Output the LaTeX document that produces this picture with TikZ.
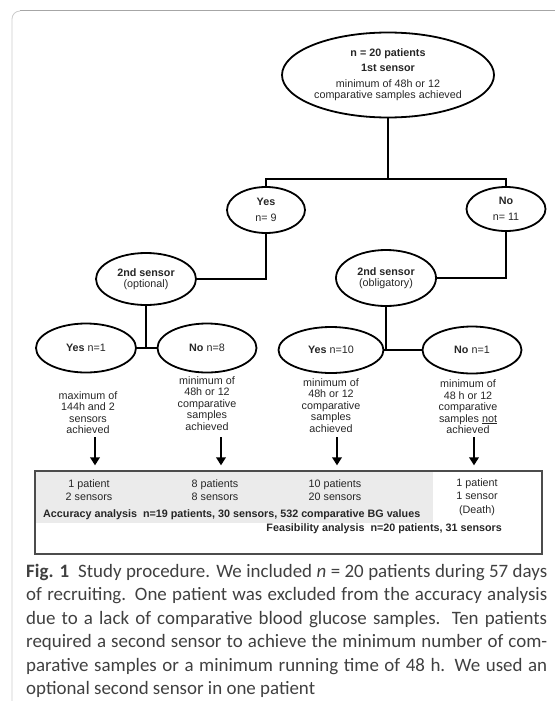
\documentclass[tikz,border=0pt]{standalone}
\usepackage{fontspec}
\setmainfont{Liberation Sans}
\newfontfamily\capfont{Carlito}
\usepackage{tikz}
\usetikzlibrary{positioning}
\usetikzlibrary{shapes.geometric}
\usetikzlibrary{arrows.meta}
\newcommand{\underword}[1]{\setbox0\hbox{#1}\rlap{\rule[-1.6bp]{\wd0}{0.6bp}}\box0}

\begin{document}
\begin{tikzpicture}[x=1bp, y=-1bp, on grid,
    oval/.style = {draw, ellipse, line width=1.8bp, inner sep=0pt, align=center, text=black!85,
        font=\fontsize{10.8}{11.5}\selectfont},
    note/.style = {align=center, inner sep=0pt, text=black!85, font=\fontsize{10.8}{11.5}\selectfont},
    boxtext/.style = {align=center, inner sep=0pt, text=black!85, font=\fontsize{10.8}{13.5}\selectfont},
    link/.style = {line width=1.8bp},
    arr/.style = {line width=1.8bp, -{Triangle[length=8bp,width=9.5bp]}}]
          \useasboundingbox (0,0) rectangle (555,701);
          % frame of the figure
          \draw[gray!40, line width=0.8bp] (12,701) -- (12,19) to[out=90, in=180] (20,11);
          \draw[gray!70, line width=1bp] (20,11) -- (555,11);
          % tree
          \node[oval, minimum width=212bp, minimum height=85bp](top) at (388,75)
              {\textbf{n = 20 patients}\\[3.5bp]\textbf{1st sensor}\\[4bp]minimum of 48h or 12\\comparative samples achieved};
          \coordinate[below=104bp of top] (split);
          \node[oval, minimum width=78bp, minimum height=46bp](yes9)[below left=135bp and 122bp of top]
              {\textbf{Yes}\\[5bp]n= 9};
          \node[oval, minimum width=79bp, minimum height=44bp](no11)[below right=134bp and 118bp of top]
              {\textbf{No}\\[5bp]n= 11};
          \node[oval, minimum width=100bp, minimum height=52bp](opt)[below left=69bp and 120bp of yes9]
              {\textbf{2nd sensor}\\(optional)};
          \node[oval, minimum width=100bp, minimum height=56bp](obl)[below left=69bp and 120bp of no11]
              {\textbf{2nd sensor}\\(obligatory)};
          \node[oval, minimum width=100bp, minimum height=49bp](yes1)[below left=69bp and 60bp of opt]
              {\textbf{Yes} n=1};
          \node[oval, minimum width=99bp, minimum height=49bp](no8)[right=121bp of yes1]
              {\textbf{No} n=8};
          \node[oval, minimum width=105bp, minimum height=46bp](yes10)[below left=72bp and 55bp of obl]
              {\textbf{Yes} n=10};
          \node[oval, minimum width=99bp, minimum height=47bp](no1)[right=141bp of yes10]
              {\textbf{No} n=1};
          \draw[link] (top) -- (split);
          \draw[link] (yes9) -- (yes9 |- split) -- (no11 |- split) -- (no11);
          \draw[link] (yes9) |- (opt);
          \draw[link] (no11) |- (obl);
          \draw[link] (opt) -- (opt |- yes1);
          \draw[link] (yes1) -- (no8);
          \draw[link] (obl) -- (obl |- yes10);
          \draw[link] (yes10) -- (no1);
          % outcome of each branch
          \node[note](c1)[below right=64.5bp and 2bp of yes1]
              {maximum of\\144h and 2\\sensors\\achieved};
          \node[note](c2)[below=55.5bp of no8]
              {minimum of\\48h or 12\\comparative\\samples\\achieved};
          \node[note](c3)[below=55.5bp of yes10]
              {minimum of\\48h or 12\\comparative\\samples\\achieved};
          \node[note](c4)[below left=57bp and 4bp of no1]
              {minimum of\\48 h or 12\\comparative\\samples \underword{not}\\achieved};
          % analysis box
          \node[fill=gray!16, minimum width=398bp, minimum height=52bp, inner sep=0pt, anchor=north west](acc) at (35,471) {};
          \node[draw=gray!60!black, line width=1.3bp, minimum width=507bp, minimum height=83bp, inner sep=0pt](box) at (288.5,512.5) {};
          \coordinate[above=33bp of box.north] (arrowtop);
          \draw[arr, shorten >=5bp] ([xshift=7bp]c1.south |- arrowtop) -- ([xshift=7bp]c1.south |- box.north);
          \draw[arr, shorten >=5bp] ([xshift=14bp]c2.south |- arrowtop) -- ([xshift=14bp]c2.south |- box.north);
          \draw[arr, shorten >=5bp] ([xshift=6bp]c3.south |- arrowtop) -- ([xshift=6bp]c3.south |- box.north);
          \draw[arr, shorten >=5bp] ([xshift=6bp]c4.south |- arrowtop) -- ([xshift=6bp]c4.south |- box.north);
          \node[boxtext](p1) at (89,490) {1 patient\\2 sensors};
          \node[boxtext](p8) at (215,490) {8 patients\\8 sensors};
          \node[boxtext](p10) at (335,490) {10 patients\\20 sensors};
          \node[boxtext](p1d) at (477,497) {1 patient\\1 sensor\\(Death)};
          \node[boxtext, anchor=west](accuracy) at (43,515)
              {\textbf{Accuracy analysis\ \ n=19 patients, 30 sensors, 532 comparative BG values}};
          \node[boxtext, anchor=east](feasibility) at (502,529)
              {\textbf{Feasibility analysis\ \ n=20 patients, 31 sensors}};
          % caption
          \node[anchor=north west, text width=521bp, align=justify, inner sep=0pt, text=black!75,
                font=\capfont\fontsize{19}{23.5}\selectfont](caption) at (26,564)
              {\textbf{Fig. 1}\ \ Study procedure. We included \textit{n} = 20 patients during 57 days\linebreak
               of recruiting. One patient was excluded from the accuracy analysis\linebreak
               due to a lack of comparative blood glucose samples. Ten patients\linebreak
               required a second sensor to achieve the minimum number of com-\linebreak
               parative samples or a minimum running time of 48 h. We used an\linebreak
               optional second sensor in one patient};
        \end{tikzpicture}
\end{document}
